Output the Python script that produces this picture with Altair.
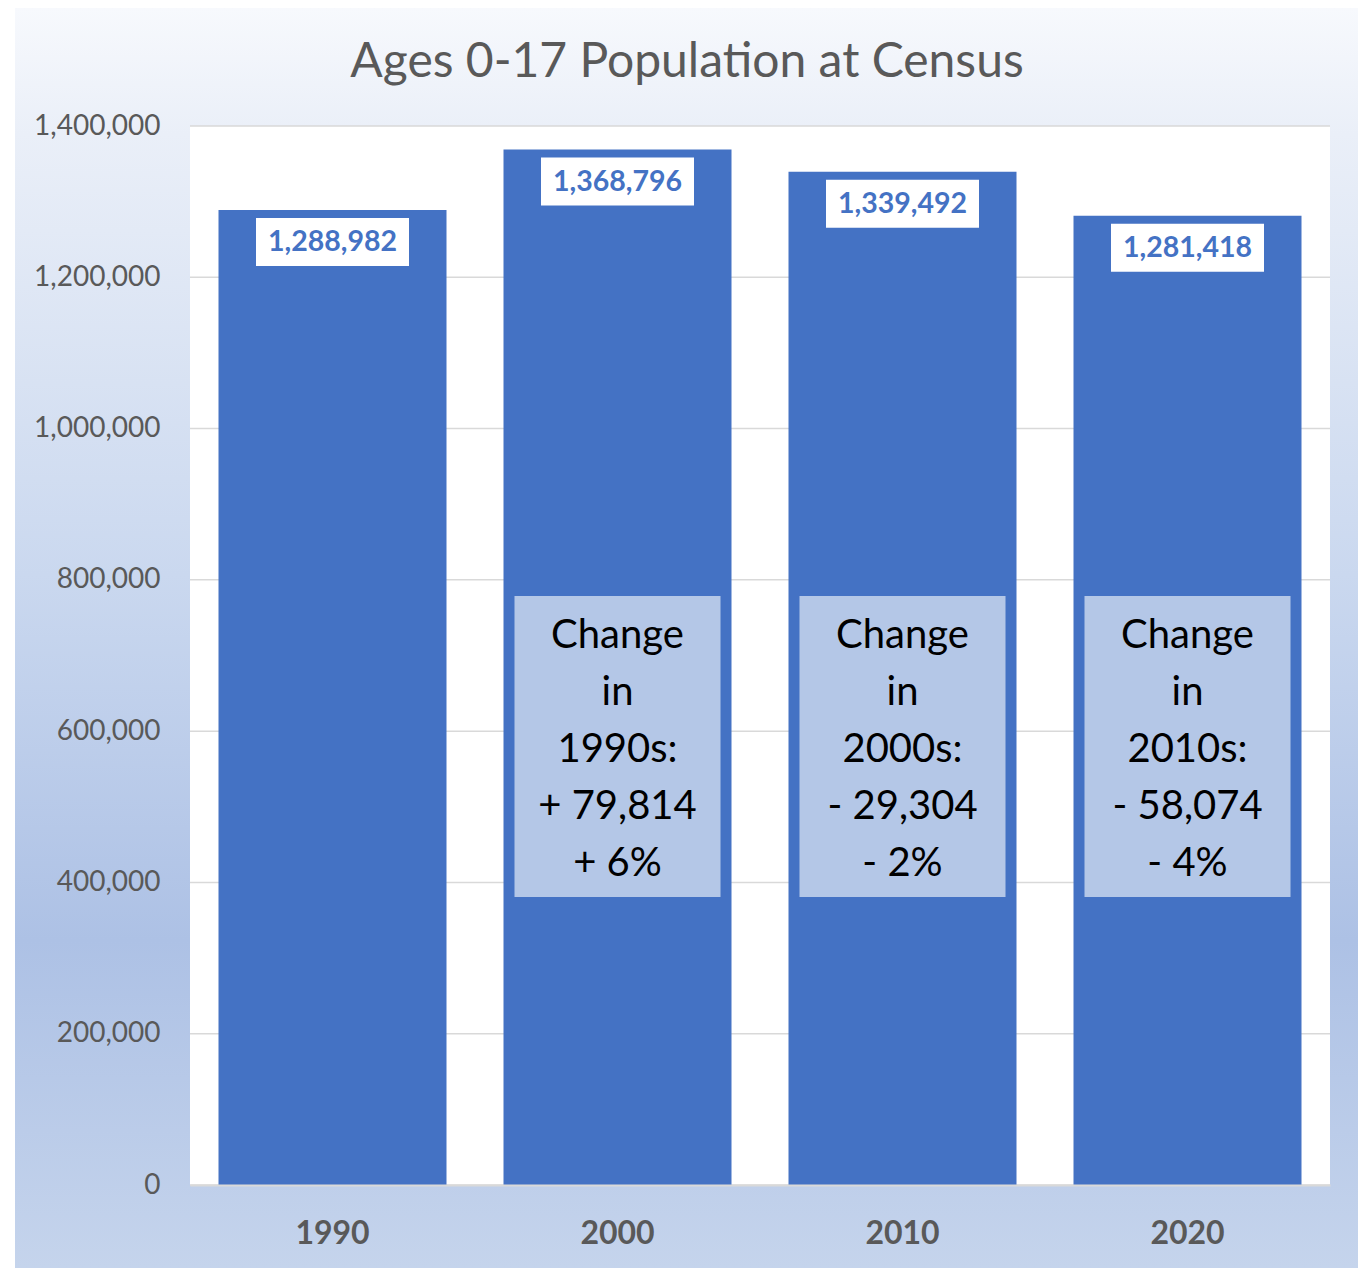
import altair as alt
import pandas as pd

years = ["1990", "2000", "2010", "2020"]
population = [1288982, 1368796, 1339492, 1281418]
change_years = ["2000", "2010", "2020"]
change_text = [
    "Change\nin\n1990s:\n+ 79,814\n+ 6%",
    "Change\nin\n2000s:\n- 29,304\n- 2%",
    "Change\nin\n2010s:\n- 58,074\n- 4%",
]
y_ticks = [0, 200000, 400000, 600000, 800000, 1000000, 1200000, 1400000]
title_text = "Ages 0-17 Population at Census"
box_low, box_high, text_first_line = 380700, 778700, 725800

FONT = "Lato"
W, H = 1140, 1059

df = pd.DataFrame({"year": years, "value": population})
cdf = pd.DataFrame({"year": change_years, "text": change_text,
                    "lo": [box_low] * 3, "hi": [box_high] * 3, "first": [text_first_line] * 3})
gdf = pd.DataFrame({"tick": y_ticks})
one = pd.DataFrame({"a": [0]})

xscale = alt.Scale(domain=years, paddingInner=0.2, paddingOuter=0.1)
yscale = alt.Scale(domain=[0, 1400000], nice=False)

grad = alt.Gradient(
    gradient="linear",
    stops=[
        alt.GradientStop(color="#F7F9FD", offset=0),
        alt.GradientStop(color="#EAEFF8", offset=0.1),
        alt.GradientStop(color="#CAD8EF", offset=0.45),
        alt.GradientStop(color="#ADC1E5", offset=0.74),
        alt.GradientStop(color="#C5D4EC", offset=1),
    ],
    x1=0, x2=0, y1=0, y2=1,
)

bg = alt.Chart(one).mark_rect(fill=grad).encode(
    x=alt.value(-175), x2=alt.value(1170), y=alt.value(-118), y2=alt.value(1142)
)
white = alt.Chart(one).mark_rect(fill="white").encode(
    x=alt.value(0), x2=alt.value(W), y=alt.value(0), y2=alt.value(H)
)
grid = alt.Chart(gdf).mark_rule(color="#D9D9D9", strokeWidth=1.5).encode(
    y=alt.Y("tick:Q", scale=yscale,
            axis=alt.Axis(title=None, values=y_ticks, labelExpr="format(datum.value, ',')",
                          labelFontSize=28, labelFont=FONT,
                          labelColor="#595959", ticks=False, tickSize=0, domain=False, grid=False,
                          labelPadding=30, zindex=1)),
    x=alt.value(0), x2=alt.value(W),
)

bars = alt.Chart(df).mark_bar(color="#4472C4").encode(
    x=alt.X("year:N", scale=xscale, sort=years,
            axis=alt.Axis(title=None, labelFontSize=32, labelFont=FONT, labelFontWeight="bold",
                          labelColor="#595959", ticks=False, tickSize=0, labelPadding=33,
                          domainColor="#D9D9D9", domainWidth=2, labelAngle=0, zindex=1)),
    y=alt.Y("value:Q", scale=yscale),
)

cbox = alt.Chart(cdf).mark_bar(color="#B4C7E7", size=206).encode(
    x=alt.X("year:N", scale=xscale, sort=years),
    y=alt.Y("lo:Q", scale=yscale), y2="hi:Q",
)
ctext = alt.Chart(cdf).mark_text(font=FONT, fontSize=40, color="black", lineBreak="\n",
                                 lineHeight=57, baseline="middle", align="center").encode(
    x=alt.X("year:N", scale=xscale, sort=years),
    y=alt.Y("first:Q", scale=yscale), text="text:N",
)

vbox = alt.Chart(df).mark_bar(color="white", size=153, yOffset=8, y2Offset=56).encode(
    x=alt.X("year:N", scale=xscale, sort=years),
    y=alt.Y("value:Q", scale=yscale), y2=alt.Y2("value:Q"),
)
vtext = alt.Chart(df).mark_text(font=FONT, fontSize=28.5, fontWeight="bold", color="#4472C4",
                                baseline="middle", align="center", dy=32).encode(
    x=alt.X("year:N", scale=xscale, sort=years),
    y=alt.Y("value:Q", scale=yscale), text=alt.Text("value:Q", format=","),
)

title = alt.Chart(one).mark_text(font=FONT, fontSize=48, color="#595959",
                                 align="center", baseline="alphabetic").encode(
    x=alt.value(497), y=alt.value(-49), text=alt.value(title_text)
)

chart = alt.layer(bg, white, grid, bars, cbox, ctext, vbox, vtext, title).properties(
    width=W, height=H,
    autosize=alt.AutoSizeParams(type="none"),
    padding={"left": 182, "top": 118, "right": 28, "bottom": 83},
).configure_view(stroke=None).configure(background="white")

chart.save("out.html", embed_options={"renderer": "svg", "actions": False})
